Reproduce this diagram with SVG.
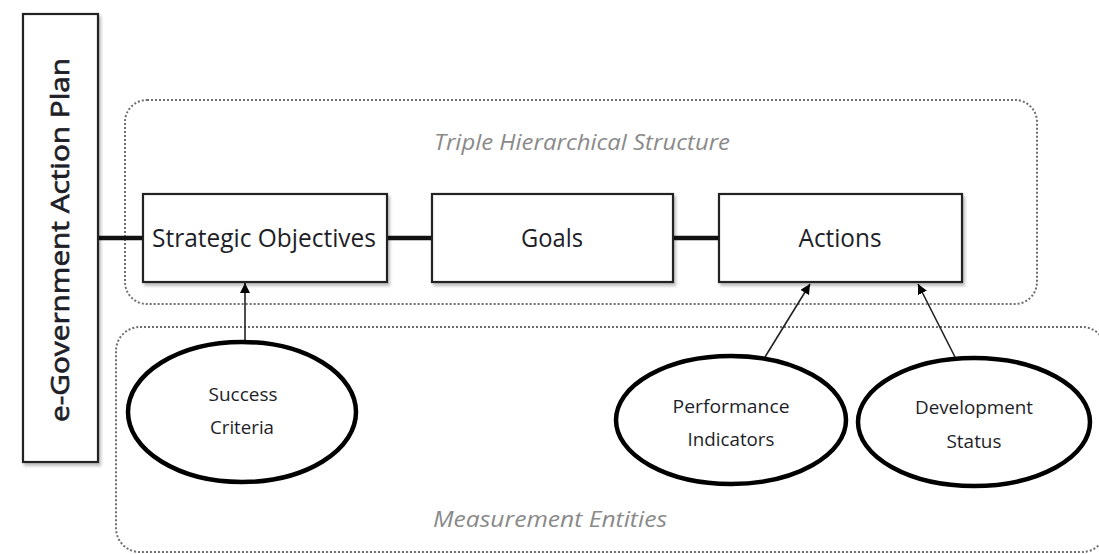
<svg xmlns="http://www.w3.org/2000/svg" width="1099" height="554" viewBox="0 0 1099 554">
<style>
.box{fill:#fff;stroke:#222;stroke-width:2.2}
.cont{fill:none;stroke:#6e6e6e;stroke-width:2;stroke-dasharray:2 2}
.ell{fill:#fff;stroke:#000;stroke-width:4.5}
.lbl{font-family:"Open Sans","Liberation Sans",sans-serif;fill:#1e1e28;text-anchor:middle}
.big{font-size:26px}
.small{font-size:18px}
.ital{font-family:"Open Sans","Liberation Sans",sans-serif;font-style:italic;fill:#8a8a8a;font-size:22px;text-anchor:middle}
.thick{stroke:#111;stroke-width:4.5;fill:none}
.arr{stroke:#222;stroke-width:1.6;fill:none;marker-end:url(#ah)}
</style>
<defs>
<marker id="ah" viewBox="0 0 10 10" refX="10" refY="5" markerWidth="10" markerHeight="10" markerUnits="userSpaceOnUse" orient="auto">
<path d="M0,0 L10,5 L0,10 z" fill="#000"/>
</marker>
<filter id="sh" x="-10%" y="-10%" width="130%" height="130%">
<feDropShadow dx="2" dy="3" stdDeviation="1.5" flood-color="#000" flood-opacity="0.25"/>
</filter>
</defs>
<rect width="1099" height="554" fill="#fff"/>
<g id="containers">
<rect id="triple" class="cont" x="125" y="100" width="912" height="204" rx="22"/>
<rect id="measure" class="cont" x="116" y="327" width="990" height="225" rx="24"/>
<text class="ital" x="582" y="150" textLength="296" lengthAdjust="spacingAndGlyphs">Triple Hierarchical Structure</text>
<text class="ital" x="550" y="527" textLength="234" lengthAdjust="spacingAndGlyphs">Measurement Entities</text>
</g>
<g id="connectors">
<line class="thick" x1="98" y1="238" x2="143" y2="238"/>
<line class="thick" x1="387" y1="238" x2="432" y2="238"/>
<line class="thick" x1="673" y1="238" x2="719" y2="238"/>
<line class="arr" x1="245" y1="352" x2="245" y2="283"/>
<line class="arr" x1="765" y1="357" x2="810" y2="284"/>
<line class="arr" x1="955" y1="357" x2="918" y2="284"/>
</g>
<g id="plan">
<rect class="box" x="23" y="14" width="75" height="448" filter="url(#sh)"/>
<text class="lbl" x="0" y="0" transform="translate(69 240) rotate(-90)" style="font-size:25px;stroke:#1e1e28;stroke-width:0.7" textLength="364" lengthAdjust="spacingAndGlyphs">e-Government Action Plan</text>
</g>
<g id="strategic">
<rect class="box" x="143" y="194" width="244" height="88" filter="url(#sh)"/>
<text class="lbl big" x="264" y="247" textLength="224" lengthAdjust="spacingAndGlyphs">Strategic Objectives</text>
</g>
<g id="goals">
<rect class="box" x="432" y="194" width="241" height="88" filter="url(#sh)"/>
<text class="lbl big" x="552" y="247" textLength="62" lengthAdjust="spacingAndGlyphs">Goals</text>
</g>
<g id="actions">
<rect class="box" x="719" y="194" width="243" height="88" filter="url(#sh)"/>
<text class="lbl big" x="840" y="247" textLength="83" lengthAdjust="spacingAndGlyphs">Actions</text>
</g>
<g id="success">
<ellipse class="ell" cx="242" cy="412" rx="114" ry="70"/>
<text class="lbl small" x="243" y="401" textLength="69" lengthAdjust="spacingAndGlyphs">Success</text>
<text class="lbl small" x="242" y="434" textLength="64" lengthAdjust="spacingAndGlyphs">Criteria</text>
</g>
<g id="performance">
<ellipse class="ell" cx="731" cy="420" rx="115" ry="64"/>
<text class="lbl small" x="731" y="413" textLength="117" lengthAdjust="spacingAndGlyphs">Performance</text>
<text class="lbl small" x="731" y="446" textLength="87" lengthAdjust="spacingAndGlyphs">Indicators</text>
</g>
<g id="development">
<ellipse class="ell" cx="974" cy="422" rx="116" ry="64"/>
<text class="lbl small" x="974" y="414" textLength="118" lengthAdjust="spacingAndGlyphs">Development</text>
<text class="lbl small" x="974" y="448" textLength="55" lengthAdjust="spacingAndGlyphs">Status</text>
</g>
</svg>
